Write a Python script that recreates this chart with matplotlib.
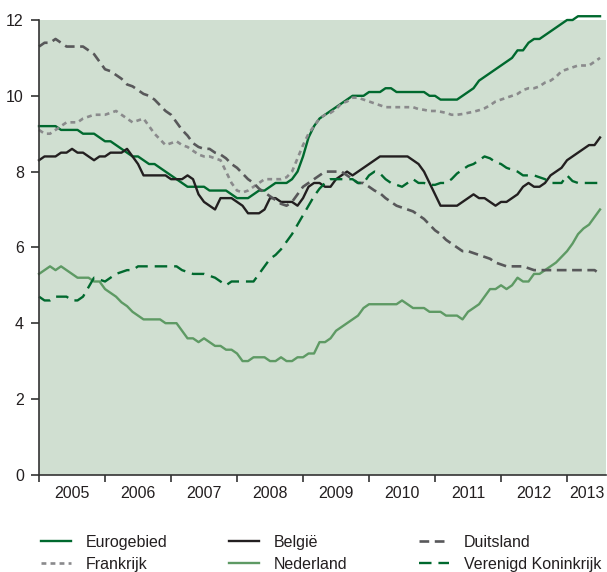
import numpy as np
import matplotlib
matplotlib.use("Agg")
import matplotlib.pyplot as plt

# monthly values, Jan 2005 - Jul 2013
eurogebied = [9.2, 9.2, 9.2, 9.2, 9.1, 9.1, 9.1, 9.1, 9.0, 9.0, 9.0, 8.9,
              8.8, 8.8, 8.7, 8.6, 8.5, 8.4, 8.4, 8.3, 8.2, 8.2, 8.1, 8.0,
              7.9, 7.8, 7.7, 7.6, 7.6, 7.6, 7.6, 7.5, 7.5, 7.5, 7.5, 7.4,
              7.3, 7.3, 7.3, 7.4, 7.5, 7.5, 7.6, 7.7, 7.7, 7.7, 7.8, 8.0,
              8.4, 8.9, 9.2, 9.4, 9.5, 9.6, 9.7, 9.8, 9.9, 10.0, 10.0, 10.0,
              10.1, 10.1, 10.1, 10.2, 10.2, 10.1, 10.1, 10.1, 10.1, 10.1, 10.1, 10.0,
              10.0, 9.9, 9.9, 9.9, 9.9, 10.0, 10.1, 10.2, 10.4, 10.5, 10.6, 10.7,
              10.8, 10.9, 11.0, 11.2, 11.2, 11.4, 11.5, 11.5, 11.6, 11.7, 11.8, 11.9,
              12.0, 12.0, 12.1, 12.1, 12.1, 12.1, 12.1]
belgie = [8.3, 8.4, 8.4, 8.4, 8.5, 8.5, 8.6, 8.5, 8.5, 8.4, 8.3, 8.4,
          8.4, 8.5, 8.5, 8.5, 8.6, 8.4, 8.2, 7.9, 7.9, 7.9, 7.9, 7.9,
          7.8, 7.8, 7.8, 7.9, 7.8, 7.4, 7.2, 7.1, 7.0, 7.3, 7.3, 7.3,
          7.2, 7.1, 6.9, 6.9, 6.9, 7.0, 7.3, 7.3, 7.2, 7.2, 7.2, 7.1,
          7.3, 7.6, 7.7, 7.7, 7.6, 7.6, 7.8, 7.9, 8.0, 7.9, 8.0, 8.1,
          8.2, 8.3, 8.4, 8.4, 8.4, 8.4, 8.4, 8.4, 8.3, 8.2, 8.0, 7.7,
          7.4, 7.1, 7.1, 7.1, 7.1, 7.2, 7.3, 7.4, 7.3, 7.3, 7.2, 7.1,
          7.2, 7.2, 7.3, 7.4, 7.6, 7.7, 7.6, 7.6, 7.7, 7.9, 8.0, 8.1,
          8.3, 8.4, 8.5, 8.6, 8.7, 8.7, 8.9]
duitsland = [11.3, 11.4, 11.4, 11.5, 11.4, 11.3, 11.3, 11.3, 11.3, 11.2, 11.1, 10.9,
             10.7, 10.65, 10.55, 10.45, 10.3, 10.25, 10.15, 10.05, 10.0, 9.9, 9.75, 9.6,
             9.5, 9.3, 9.1, 8.95, 8.75, 8.65, 8.6, 8.6, 8.5, 8.45, 8.35, 8.2,
             8.1, 7.95, 7.8, 7.7, 7.55, 7.45, 7.35, 7.25, 7.15, 7.1, 7.2, 7.4,
             7.6, 7.7, 7.8, 7.9, 8.0, 8.0, 8.0, 8.0, 7.9, 7.8, 7.7, 7.7,
             7.6, 7.5, 7.43, 7.3, 7.2, 7.1, 7.05, 7.0, 6.95, 6.85, 6.75, 6.6,
             6.45, 6.35, 6.2, 6.1, 6.0, 5.9, 5.9, 5.85, 5.8, 5.75, 5.7, 5.6,
             5.55, 5.5, 5.5, 5.5, 5.5, 5.45, 5.4, 5.4, 5.4, 5.4, 5.4, 5.4,
             5.4, 5.4, 5.4, 5.4, 5.4, 5.4, 5.3]
frankrijk = [9.1, 9.0, 9.0, 9.1, 9.2, 9.3, 9.3, 9.3, 9.4, 9.45, 9.5, 9.5,
             9.5, 9.55, 9.6, 9.5, 9.4, 9.3, 9.35, 9.4, 9.2, 9.0, 8.85, 8.7,
             8.75, 8.8, 8.7, 8.65, 8.55, 8.45, 8.4, 8.4, 8.35, 8.3, 8.0, 7.7,
             7.5, 7.45, 7.5, 7.6, 7.7, 7.8, 7.8, 7.8, 7.8, 7.85, 8.0, 8.35,
             8.7, 9.0, 9.2, 9.4, 9.5, 9.55, 9.65, 9.8, 9.85, 9.95, 9.95, 9.9,
             9.85, 9.8, 9.75, 9.7, 9.7, 9.7, 9.7, 9.7, 9.7, 9.65, 9.63, 9.6,
             9.6, 9.58, 9.55, 9.5, 9.5, 9.52, 9.55, 9.58, 9.62, 9.67, 9.75, 9.85,
             9.9, 9.95, 10.0, 10.05, 10.15, 10.2, 10.2, 10.25, 10.35, 10.4, 10.5, 10.65,
             10.7, 10.75, 10.8, 10.8, 10.8, 10.9, 11.0]
nederland = [5.3, 5.4, 5.5, 5.4, 5.5, 5.4, 5.3, 5.2, 5.2, 5.2, 5.1, 5.1,
             4.9, 4.8, 4.7, 4.55, 4.45, 4.3, 4.2, 4.1, 4.1, 4.1, 4.1, 4.0,
             4.0, 4.0, 3.8, 3.6, 3.6, 3.5, 3.6, 3.5, 3.4, 3.4, 3.3, 3.3,
             3.2, 3.0, 3.0, 3.1, 3.1, 3.1, 3.0, 3.0, 3.1, 3.0, 3.0, 3.1,
             3.1, 3.2, 3.2, 3.5, 3.5, 3.6, 3.8, 3.9, 4.0, 4.1, 4.2, 4.4,
             4.5, 4.5, 4.5, 4.5, 4.5, 4.5, 4.6, 4.5, 4.4, 4.4, 4.4, 4.3,
             4.3, 4.3, 4.2, 4.2, 4.2, 4.1, 4.3, 4.4, 4.5, 4.7, 4.9, 4.9,
             5.0, 4.9, 5.0, 5.2, 5.1, 5.1, 5.3, 5.3, 5.4, 5.5, 5.6, 5.75,
             5.9, 6.1, 6.35, 6.5, 6.6, 6.8, 7.0]
vk = [4.7, 4.6, 4.6, 4.7, 4.7, 4.7, 4.6, 4.6, 4.7, 4.95, 5.2, 5.15,
      5.1, 5.2, 5.3, 5.35, 5.4, 5.4, 5.5, 5.5, 5.5, 5.5, 5.5, 5.5,
      5.5, 5.5, 5.4, 5.35, 5.3, 5.3, 5.3, 5.25, 5.2, 5.1, 5.0, 5.1,
      5.1, 5.1, 5.1, 5.1, 5.3, 5.5, 5.7, 5.8, 5.95, 6.15, 6.35, 6.6,
      6.85, 7.1, 7.35, 7.55, 7.7, 7.8, 7.8, 7.8, 7.8, 7.8, 7.7, 7.7,
      7.9, 8.0, 7.95, 7.8, 7.7, 7.65, 7.6, 7.7, 7.8, 7.7, 7.7, 7.65,
      7.65, 7.7, 7.7, 7.8, 7.95, 8.05, 8.15, 8.2, 8.3, 8.4, 8.35, 8.25,
      8.2, 8.1, 8.05, 8.0, 7.9, 7.9, 7.9, 7.85, 7.8, 7.7, 7.7, 7.7,
      7.9, 7.75, 7.7, 7.7, 7.7, 7.7, 7.7]

years = [2005, 2006, 2007, 2008, 2009, 2010, 2011, 2012, 2013]
year_labels = [str(y) for y in years]

plt.rcParams['font.family'] = ['Liberation Sans', 'DejaVu Sans']
plt.rcParams['lines.scale_dashes'] = False

t = 2005 + np.arange(len(eurogebied)) / 12.0

fig = plt.figure(figsize=(6.07, 5.72), dpi=100)
ax = fig.add_axes([0.0643, 0.170, 0.934, 0.795])
ax.set_facecolor('#d0dfd1')

dkgreen = '#00692e'
l1, = ax.plot(t, eurogebied, color=dkgreen, lw=1.7, label='Eurogebied', clip_on=False)
l2, = ax.plot(t, frankrijk, color='#8a8a8c', lw=1.9, dashes=(3.5, 3), label='Frankrijk', clip_on=False)
l3, = ax.plot(t, belgie, color='#231f20', lw=1.7, label='België', clip_on=False)
l4, = ax.plot(t, nederland, color='#5e9a64', lw=1.7, label='Nederland', clip_on=False)
l5, = ax.plot(t, duitsland, color='#58585a', lw=1.9, dashes=(7, 4), label='Duitsland', clip_on=False)
l6, = ax.plot(t, vk, color=dkgreen, lw=1.7, dashes=(9, 5), label='Verenigd Koninkrijk', clip_on=False)

ax.set_xlim(2005, 2013.59)
ax.set_ylim(0, 12)
ax.set_yticks([0, 2, 4, 6, 8, 10, 12])

ax.set_xticks(years)
ax.set_xticklabels([])
ax.set_xticks([y + 0.5 for y in years[:-1]] + [2013.3], minor=True)
ax.set_xticklabels(year_labels, minor=True)
ax.tick_params(axis='x', which='minor', length=0, pad=8, labelsize=11.5, colors='#231f20')
ax.tick_params(axis='x', which='major', length=5, width=1.2, color='#333333')
ax.tick_params(axis='y', length=6, width=1.2, color='#333333', labelsize=11.5,
               labelcolor='#231f20', pad=5)

for s in ['top', 'right']:
    ax.spines[s].set_visible(False)
for s in ['left', 'bottom']:
    ax.spines[s].set_color('#333333')
    ax.spines[s].set_linewidth(1.2)

# one legend per column so the columns line up with the reference
columns = [([l1, l2], 0.067), ([l3, l4], 0.377), ([l5, l6], 0.690)]
for handles, xpos in columns:
    leg = fig.legend(handles=handles, loc='upper left', bbox_to_anchor=(xpos, 0.0655),
                     frameon=False, fontsize=11.5, handlelength=1.9, handletextpad=0.9,
                     labelspacing=0.45, borderaxespad=0, borderpad=0)
    for txt in leg.get_texts():
        txt.set_color('#231f20')

fig.savefig('out.png', dpi=100)
